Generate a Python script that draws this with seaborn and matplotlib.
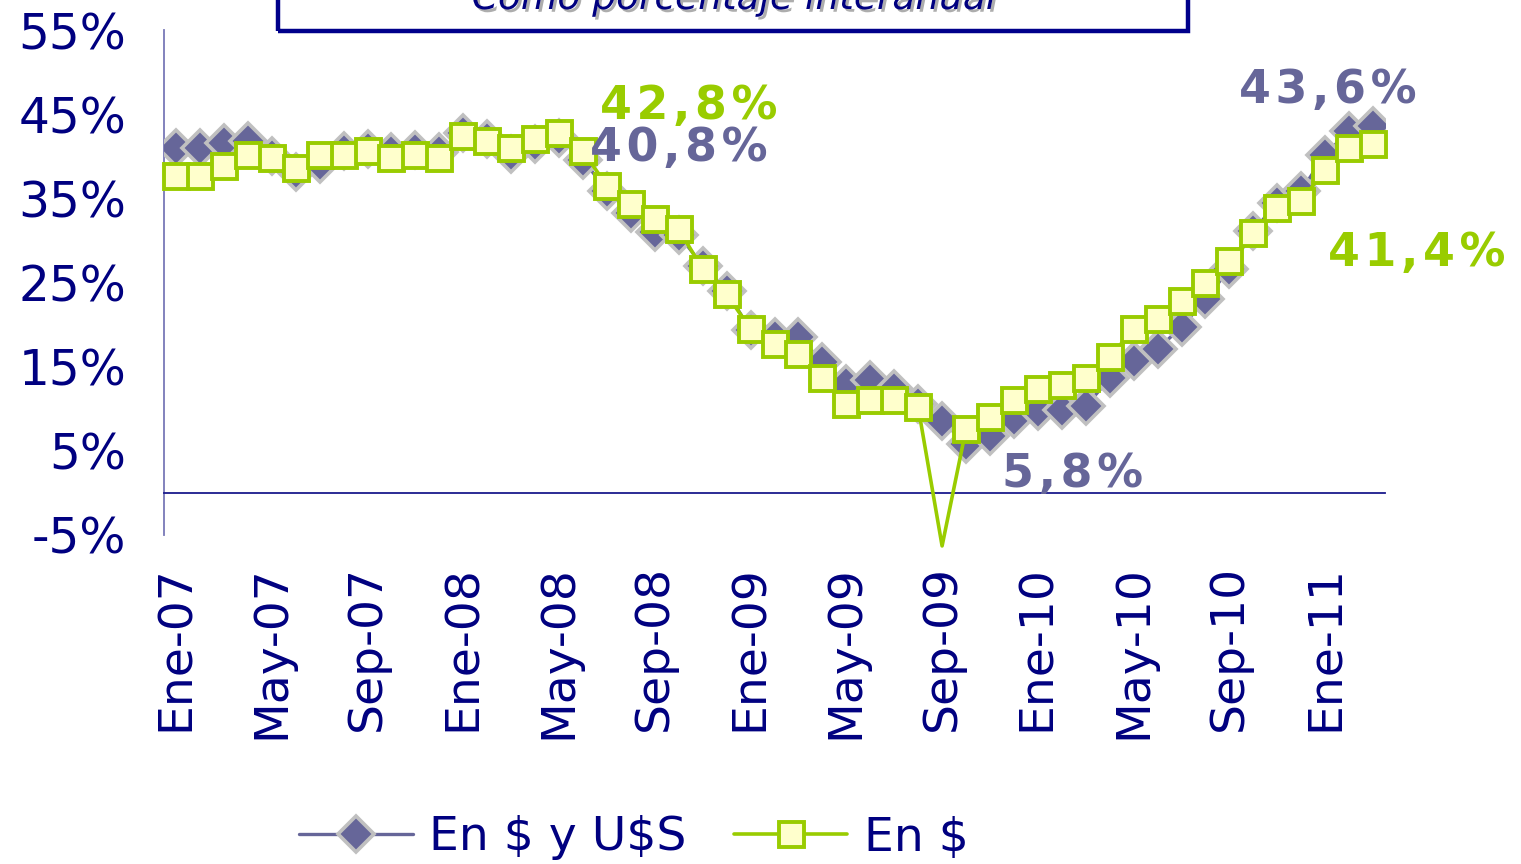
import seaborn as sns
import pandas as pd
import matplotlib
matplotlib.use('Agg')
import matplotlib.pyplot as plt
import matplotlib.patheffects as pe
from matplotlib.patches import Rectangle

# categorias mensuales Ene-07 .. Mar-11
meses = ['Ene', 'Feb', 'Mar', 'Abr', 'May', 'Jun', 'Jul', 'Ago', 'Sep', 'Oct', 'Nov', 'Dic']
anios = ['07', '08', '09', '10', '11']
categorias = [m + '-' + a for a in anios for m in meses][:51]

tick_labels = ['Ene-07', 'May-07', 'Sep-07', 'Ene-08', 'May-08', 'Sep-08', 'Ene-09',
               'May-09', 'Sep-09', 'Ene-10', 'May-10', 'Sep-10', 'Ene-11']

en_pesos_y_dolares = [41.0, 41.0, 41.6, 41.8, 40.0, 38.1, 39.1, 40.6, 40.9, 40.5, 40.7, 40.5,
                      42.8, 42.1, 40.3, 41.5, 42.2, 39.6, 35.9, 33.3, 31.0, 30.7, 27.0, 24.0,
                      19.3, 18.5, 18.5, 15.6, 13.0, 13.4, 12.4, 10.6, 8.6, 5.8, 6.8, 8.8,
                      9.7, 9.8, 10.3, 13.6, 15.7, 17.1, 19.7, 23.0, 26.6, 31.1, 34.5, 35.9,
                      40.2, 43.0, 43.6]

en_pesos = [37.6, 37.6, 38.9, 40.2, 39.8, 38.6, 40.2, 40.2, 40.6, 39.8, 40.2, 39.8,
            42.4, 41.8, 41.0, 42.0, 42.8, 40.6, 36.5, 34.3, 32.6, 31.3, 26.6, 23.6,
            19.5, 17.7, 16.5, 13.6, 10.6, 11.0, 11.0, 10.2, -6.3, 7.6, 9.0, 11.0,
            12.4, 12.8, 13.6, 16.1, 19.5, 20.7, 22.8, 25.0, 27.5, 30.9, 33.9, 34.7,
            38.4, 41.0, 41.4]

# punto sin marcador (Sep-09 en $)
sin_marcador = [32]

etiquetas = [('42,8%', 17.7, 45.9, '#99cc00'),
             ('40,8%', 17.3, 40.9, '#666699'),
             ('43,6%', 44.4, 47.8, '#666699'),
             ('41,4%', 48.1, 28.4, '#99cc00'),
             ('5,8%', 34.5, 2.2, '#666699')]

df = pd.DataFrame({'cat': categorias, 'pos': range(len(categorias)),
                   'usd': en_pesos_y_dolares, 'ars': en_pesos})

sns.set_style('white')
plt.rcParams['font.family'] = ['DejaVu Sans']
navy = '#000080'

fig = plt.figure(figsize=(15.21, 8.64), dpi=100)
ax = fig.add_axes([164 / 1521, 1 - 535 / 864, (1385 - 164) / 1521, (535 - 30) / 864])

sns.lineplot(data=df, x='pos', y='usd', ax=ax, color='#666699', linewidth=2.4,
             marker='D', markersize=18, markerfacecolor='#666699',
             markeredgecolor='#c0c0c0', markeredgewidth=2.6, label=r'En \$ y U\$S',
             zorder=3)
marks = [i for i in range(len(df)) if i not in sin_marcador]
sns.lineplot(data=df, x='pos', y='ars', ax=ax, color='#99cc00', linewidth=2.6,
             marker='s', markersize=18, markerfacecolor='#ffffcc',
             markeredgecolor='#99cc00', markeredgewidth=2.8, markevery=marks,
             label='En $', zorder=4, clip_on=False)

ax.set_xlim(-0.5, len(df) - 0.5)
ax.set_ylim(-5, 55)
ax.set_xlabel('')
ax.set_ylabel('')

for s in ['top', 'right']:
    ax.spines[s].set_visible(False)
ax.spines['bottom'].set_position(('data', 0))
ax.spines['bottom'].set_color('#1a1a8c')
ax.spines['bottom'].set_linewidth(1.3)
ax.spines['left'].set_color('#7878b8')
ax.spines['left'].set_linewidth(1.3)

# ejes
yt = list(range(-5, 56, 10))
ax.set_yticks(yt)
ax.set_yticklabels([f'{v}%' for v in yt], fontsize=35, color=navy)
ax.tick_params(axis='y', direction='out', length=11, width=1.2, color='#333399', pad=16)

ax.set_xticks([i - 0.5 for i in range(0, len(df), 4)])
ax.set_xticklabels([])
ax.tick_params(axis='x', which='major', direction='out', length=9, width=1.2, color='#1a1a8c')
ax.set_xticks(list(range(0, len(df), 4)), minor=True)
ax.set_xticklabels(tick_labels, minor=True, rotation=90, fontsize=34, color=navy)
ax.tick_params(axis='x', which='minor', length=0, pad=52)

for txt, x, y, c in etiquetas:
    ax.text(x, y, '\u200a'.join(txt), color=c, fontsize=33, fontweight='bold',
            ha='left', va='center', zorder=5)

# recuadro del titulo
fig.patches.append(Rectangle((278 / 1521, 1 - 31 / 864), (1188 - 278) / 1521, 0.2,
                             transform=fig.transFigure, fill=False, edgecolor='#00008b',
                             linewidth=3.2))
fig.text(734 / 1521, 1 - 9 / 864, 'Como porcentaje interanual', style='italic',
         color=navy, fontsize=27, ha='center', va='baseline',
         path_effects=[pe.SimplePatchShadow(offset=(2, -2), shadow_rgbFace='#999999', alpha=0.8),
                       pe.Normal()])

ax.get_legend().remove()
h, l = ax.get_legend_handles_labels()
fig.legend(h, l, loc='center', bbox_to_anchor=(634 / 1521, 1 - 838 / 864), ncol=2,
           frameon=False, fontsize=34, handlelength=2.4, handletextpad=0.35,
           columnspacing=1.0, labelcolor=navy)

fig.savefig('out.png', dpi=100)
